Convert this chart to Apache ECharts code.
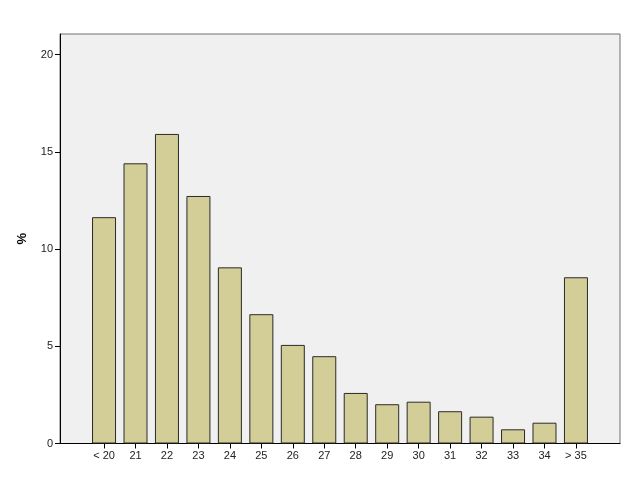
<!DOCTYPE html>
<html>
<head>
<meta charset="utf-8">
<script src="https://cdn.jsdelivr.net/npm/echarts@6/dist/echarts.min.js"></script>
<style>html,body{margin:0;padding:0;background:#fff}#c{width:629px;height:504px}</style>
</head>
<body>
<div id="c"></div>
<script>
var categories = ['< 20','21','22','23','24','25','26','27','28','29','30','31','32','33','34','> 35'];
var percentValues = [11.64, 14.41, 15.92, 12.73, 9.06, 6.65, 5.07, 4.49, 2.60, 2.02, 2.15, 1.66, 1.38, 0.73, 1.07, 8.55];
var yTickValues = [0, 5, 10, 15, 20];

var positions = categories.map(function (c, i) { return i; });
var seriesData = percentValues.map(function (v, i) { return [i, v]; });

var chart = echarts.init(document.getElementById('c'), null, {renderer: 'canvas'});
chart.setOption({
  backgroundColor: '#ffffff',
  animation: false,
  textStyle: {fontFamily: 'Liberation Sans, Arial, sans-serif'},
  grid: {
    left: 60, right: 9, top: 34, bottom: 60.5,
    show: true, backgroundColor: '#f0f0f0', borderColor: '#707070', borderWidth: 1,
    containLabel: false, outerBoundsMode: 'none'
  },
  xAxis: {
    type: 'value', min: -1.4, max: 16.4,
    splitLine: {show: false},
    axisLine: {show: true, onZero: false, lineStyle: {color: '#000', width: 1}},
    axisTick: {show: true, length: 5, lineStyle: {color: '#000'}, customValues: positions},
    axisLabel: {
      customValues: positions, margin: 7, color: '#222', fontSize: 11,
      formatter: function (v) { return categories[Math.round(v)]; }
    }
  },
  yAxis: {
    type: 'value', min: 0, max: 21.06,
    name: '%', nameLocation: 'middle', nameGap: 31,
    nameTextStyle: {fontWeight: 'bold', fontSize: 13, color: '#000'},
    splitLine: {show: false},
    axisLine: {show: true, onZero: false, lineStyle: {color: '#000', width: 1}},
    axisTick: {show: true, length: 5, lineStyle: {color: '#000'}, customValues: yTickValues},
    axisLabel: {customValues: yTickValues, margin: 7, color: '#222', fontSize: 11}
  },
  series: [{
    type: 'bar',
    data: seriesData,
    barWidth: 24,
    itemStyle: {color: '#d3ce97', borderColor: '#2a2a2a', borderWidth: 1}
  }]
});
</script>
</body>
</html>
